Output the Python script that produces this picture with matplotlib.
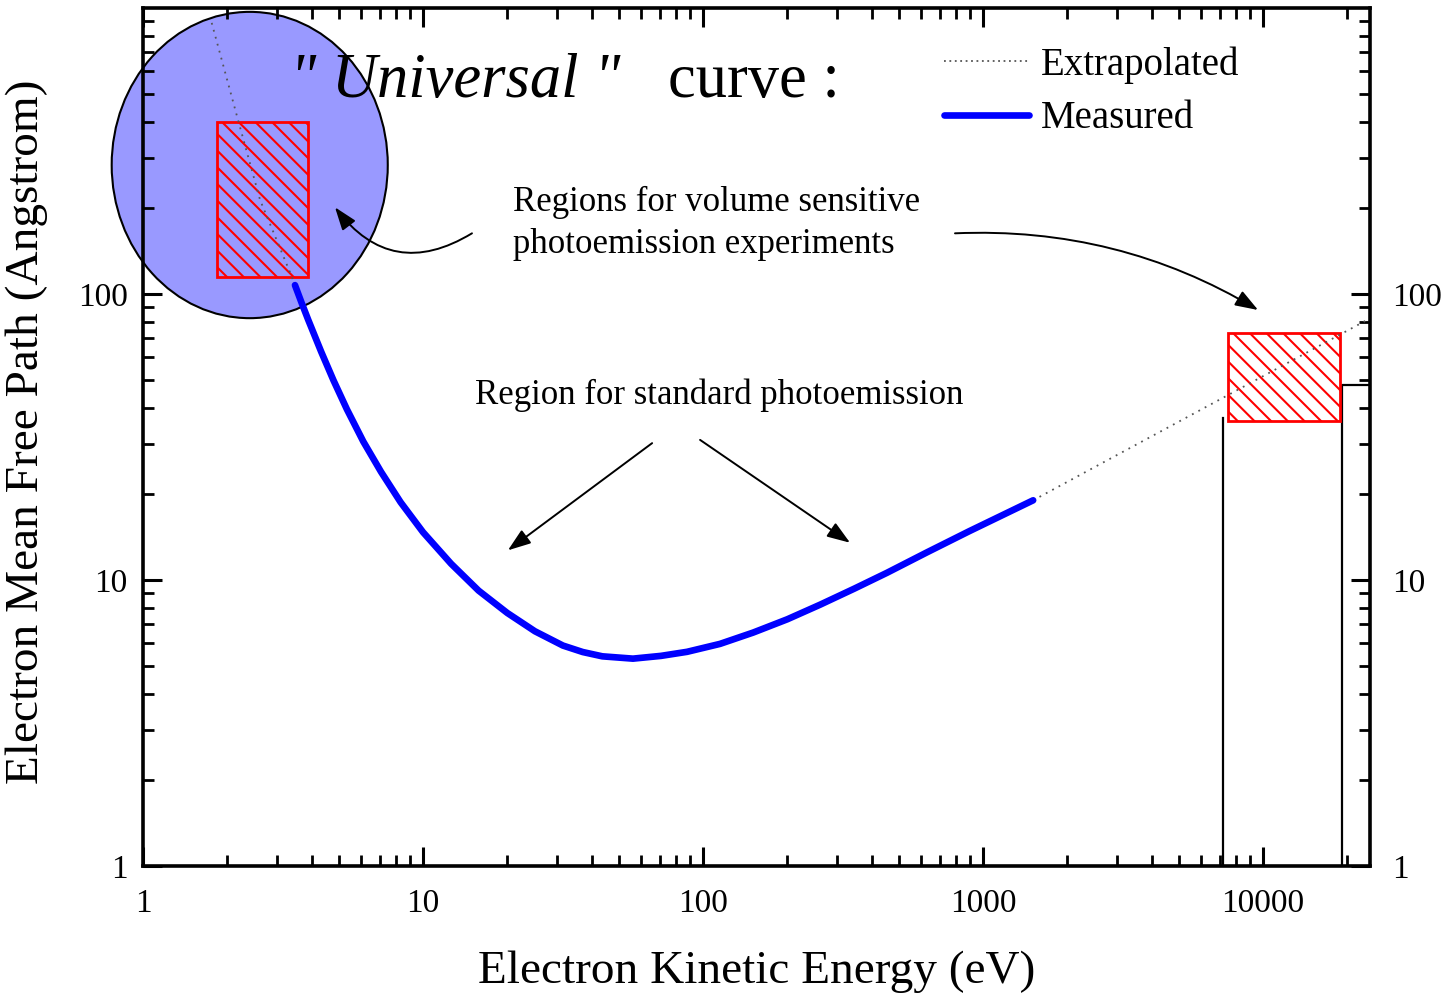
import matplotlib
matplotlib.use("Agg")
import matplotlib.pyplot as plt
from matplotlib.patches import Ellipse, Rectangle
from matplotlib.lines import Line2D
from matplotlib.transforms import ScaledTranslation

# ── Data ────────────────────────────────────────────────────────────────────
measured_ev = [3.49, 3.68, 3.89, 4.33, 4.79, 5.35, 6.12, 7.08, 8.32, 10.0,
               12.6, 15.8, 20.0, 25.1, 31.6, 37.2, 43.7, 56.2, 70.8, 87.7,
               115, 151, 200, 262, 347, 454, 631, 891, 1510]
measured_imfp = [107.4, 93.5, 81.3, 62.8, 49.9, 39.5, 30.5, 23.9, 18.7, 14.7,
                 11.4, 9.18, 7.67, 6.62, 5.90, 5.60, 5.41, 5.31, 5.43, 5.61,
                 5.98, 6.55, 7.29, 8.20, 9.33, 10.6, 12.5, 14.8, 19.0]

extrap_low_ev = [1.76, 2.17, 2.62, 3.40, 3.49]
extrap_low_imfp = [887, 416, 213, 115, 107.4]
extrap_high_ev = [1510, 24000]
extrap_high_imfp = [19.0, 82]

# hatched boxes: (x0, x1, y0, y1)
box_low = (1.84, 3.88, 115, 399)
box_high = (7500, 18800, 36, 73)

# black outline lines near the high-energy box
outline_a_ev = [7200, 7200]
outline_a_y = [1, 37]
outline_b_ev = [19100, 19100, 24000]
outline_b_y = [1, 48, 48]

x_ticks = [1, 10, 100, 1000, 10000]
x_labels = ["1", "10", "100", "1000", "10000"]
y_ticks = [1, 10, 100]
y_labels = ["1", "10", "100"]

plt.rcParams["font.family"] = ["Liberation Serif", "DejaVu Serif"]
plt.rcParams["hatch.linewidth"] = 1.5

fig = plt.figure(figsize=(14.53, 9.99), dpi=100)
ax = fig.add_axes([0.0984, 0.1331, 0.8445, 0.8589])
ax.set_xscale("log")
ax.set_yscale("log")
ax.set_xlim(1, 24100)
ax.set_ylim(1, 1000)

# ── blue ellipse + hatched regions ──────────────────────────────────────────
ell = Ellipse((0.087, 0.817), 0.225, 0.357, transform=ax.transAxes,
              clip_on=False, facecolor="#9999ff", edgecolor="black",
              linewidth=1.5, zorder=1)
ax.add_patch(ell)

for (x0, x1, y0, y1) in [box_low, box_high]:
    ax.add_patch(Rectangle((x0, y0), x1 - x0, y1 - y0, facecolor="none",
                           edgecolor="red", hatch="\\\\", linewidth=2,
                           zorder=3))

ax.plot(outline_a_ev, outline_a_y, color="black", lw=1.6, zorder=2)
ax.plot(outline_b_ev, outline_b_y, color="black", lw=1.6, zorder=2)

# ── curves ───────────────────────────────────────────────────────────────────
ax.plot(extrap_low_ev, extrap_low_imfp, color="#555555", lw=1.3,
        linestyle=(0, (1, 3)), zorder=4)
ax.plot(extrap_high_ev, extrap_high_imfp, color="#555555", lw=1.3,
        linestyle=(0, (1, 3)), zorder=4)
ax.plot(measured_ev, measured_imfp, color="#0000ff", lw=4.8,
        solid_capstyle="round", solid_joinstyle="round", zorder=5)

# ── axes styling ─────────────────────────────────────────────────────────────
for sp in ax.spines.values():
    sp.set_linewidth(2.6)
ax.set_xticks(x_ticks)
ax.set_xticklabels(x_labels)
ax.set_yticks(y_ticks)
ax.set_yticklabels(y_labels)
ax.tick_params(which="both", direction="in", top=True, right=True,
               labelright=True, color="black")
ax.tick_params(which="major", length=14, width=2.2, labelsize=24)
ax.tick_params(which="minor", length=8, width=2.0)
ax.tick_params(axis="x", pad=16)
ax.tick_params(axis="y", which="major", pad=11)

# push right-hand labels a bit further out
shift = ScaledTranslation(7 / 100, 0, fig.dpi_scale_trans)
for t in ax.yaxis.get_major_ticks():
    t.label2.set_transform(t.label2.get_transform() + shift)

ax.set_xlabel("Electron Kinetic Energy (eV)", fontsize=34)
ax.xaxis.set_label_coords(0.5, -0.098)
ax.set_ylabel("Electron Mean Free Path (Angstrom)", fontsize=34)
ax.yaxis.set_label_coords(-0.077, 0.506)

# ── text & arrows ────────────────────────────────────────────────────────────
ax.text(3.35, 489, '" Universal "', fontsize=45, style="italic",
        ha="left", va="baseline", zorder=6)
ax.text(75, 489, "curve :", fontsize=45, ha="left", va="baseline", zorder=6)

ax.text(20.9, 176, "Regions for volume sensitive\nphotoemission experiments",
        fontsize=25, ha="left", va="center", linespacing=1.35)
ax.text(114, 44.4, "Region for standard photoemission", fontsize=25,
        ha="center", va="center")

arrow = dict(arrowstyle="-|>,head_length=1.4,head_width=0.5",
             color="black", lw=1.4, shrinkA=0, shrinkB=0)
ax.annotate("", xy=(4.85, 201), xytext=(14.96, 163),
            arrowprops=dict(arrow, connectionstyle="arc3,rad=-0.45"))
ax.annotate("", xy=(9600, 87.9), xytext=(794, 163),
            arrowprops=dict(arrow, connectionstyle="arc3,rad=-0.15"))
ax.annotate("", xy=(20.1, 12.7), xytext=(65.8, 30.1), arrowprops=arrow)
ax.annotate("", xy=(335, 13.5), xytext=(97.6, 30.9), arrowprops=arrow)

handles = [Line2D([], [], color="#555555", lw=1.3, linestyle=(0, (1, 2))),
           Line2D([], [], color="#0000ff", lw=4.8, solid_capstyle="round")]
ax.legend(handles, ["Extrapolated", "Measured"], loc="upper left",
          bbox_to_anchor=(0.624, 0.996), frameon=False, fontsize=28,
          handlelength=2.2, handletextpad=0.3, labelspacing=0.42)

fig.savefig("out.png", dpi=100)
